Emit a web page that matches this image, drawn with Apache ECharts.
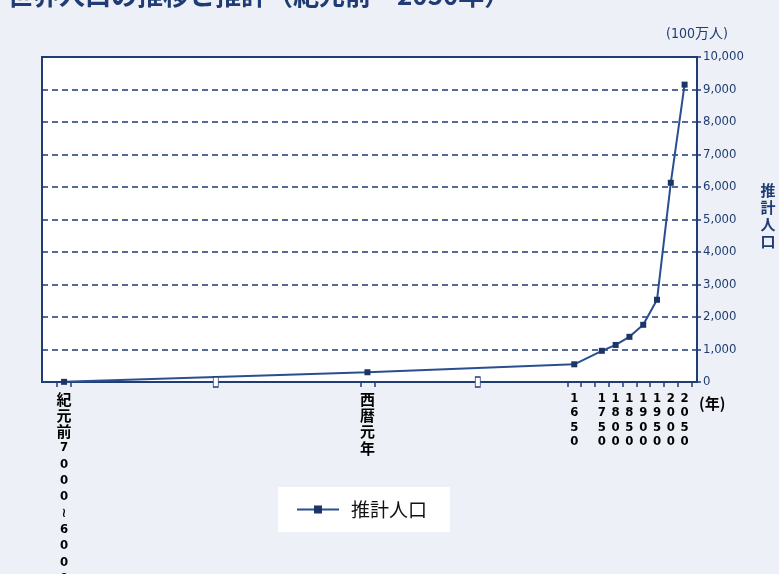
<!DOCTYPE html>
<html>
<head>
<meta charset="utf-8">
<script src="https://cdn.jsdelivr.net/npm/echarts@6/dist/echarts.min.js"></script>
<style>
  html, body { margin: 0; padding: 0; background: #edf0f6; }
  #chart { width: 779px; height: 574px; }
</style>
</head>
<body>
<div id="chart"></div>
<script>
// World population, estimates and projection (millions)
const periods = ['紀元前7000～6000', '西暦元年', '1650', '1750', '1800', '1850', '1900', '1950', '2000', '2050'];
const population = [5, 300, 545, 960, 1140, 1390, 1760, 2530, 6130, 9150];
// Slot of each period on the compressed time axis
const periodSlots = [1, 23, 38, 40, 41, 42, 43, 44, 45, 46];
// Slots that get a tick band (1700 has a band but no value)
const tickSlots = [1, 23, 38, 39, 40, 41, 42, 43, 44, 45, 46];
// Where the time axis is broken
const breakSlots = [12, 31];
const yMin = 0, yMax = 10000, yStep = 1000;

const NAVY = '#1f3d74';

const tickValues = [];
tickSlots.forEach(s => {
  [s - 0.5, s + 0.5].forEach(v => { if (!tickValues.includes(v)) tickValues.push(v); });
});

// Stack the characters of a label vertically
function verticalLabel(text) {
  const hasCJK = /[^\x00-\x7f]/.test(text);
  return Array.from(text).map(ch => {
    if (ch === '～') return '{n|≀}';
    if (/[0-9]/.test(ch)) return (hasCJK ? '{n|' : '{d|') + ch + '}';
    return '{c|' + ch + '}';
  }).join('\n');
}

const chart = echarts.init(document.getElementById('chart'), null, { renderer: 'canvas' });

chart.setOption({
  animation: false,
  backgroundColor: '#edf0f6',
  title: {
    text: '世界人口の推移と推計（紀元前～2050年）',
    left: 2,
    top: -23,
    textStyle: { color: NAVY, fontSize: 26, fontWeight: 'bold', fontFamily: 'Noto Sans CJK JP' }
  },
  grid: {
    left: 42, top: 57, right: 82, bottom: 192,
    outerBoundsMode: 'none',
    containLabel: false,
    show: true, backgroundColor: '#ffffff', borderColor: NAVY, borderWidth: 2
  },
  legend: {
    data: ['推計人口'],
    left: 278, top: 487,
    padding: [13, 23, 13, 18],
    backgroundColor: '#ffffff',
    itemWidth: 42, itemHeight: 10,
    textStyle: { color: '#111', fontSize: 19, fontFamily: 'Noto Sans CJK JP', padding: [0, 0, 0, 7] }
  },
  xAxis: {
    type: 'value',
    min: -0.6, max: 46.9,
    splitLine: { show: false },
    axisLine: { onZero: false, lineStyle: { color: NAVY, width: 2 } },
    axisTick: { show: true, customValues: tickValues, length: 5, lineStyle: { color: NAVY, width: 1.5 } },
    axisLabel: {
      customValues: periodSlots,
      margin: 9,
      verticalAlign: 'top',
      formatter: v => verticalLabel(periods[periodSlots.indexOf(v)] || ''),
      rich: {
        c: { fontSize: 15, lineHeight: 16.3, fontWeight: 'bold', color: '#000', fontFamily: 'Noto Sans CJK JP' },
        n: { fontSize: 13, lineHeight: 16.3, fontWeight: 'bold', color: '#000', fontFamily: 'DejaVu Sans Condensed' },
        d: { fontSize: 13, lineHeight: 14.5, fontWeight: 'bold', color: '#000', fontFamily: 'DejaVu Sans Condensed' }
      }
    },
    name: '(年)',
    nameLocation: 'end',
    nameGap: 2,
    nameTextStyle: { color: '#000', fontSize: 15, fontWeight: 'bold', fontFamily: 'Noto Sans CJK JP', verticalAlign: 'top', padding: [14, 0, 0, 0] }
  },
  yAxis: {
    type: 'value',
    position: 'right',
    min: yMin, max: yMax, interval: yStep,
    axisLine: { show: true, onZero: false, lineStyle: { color: NAVY, width: 2 } },
    axisTick: { show: true, length: 4, lineStyle: { color: NAVY, width: 1.5 } },
    splitLine: { lineStyle: { color: NAVY, width: 1.5, type: [6, 4] } },
    axisLabel: {
      margin: 6,
      color: NAVY,
      fontSize: 13,
      fontFamily: 'DejaVu Sans Condensed',
      formatter: v => v.toLocaleString('en-US')
    },
    name: '(100万人)',
    nameLocation: 'end',
    nameGap: 16,
    nameTextStyle: { color: NAVY, fontSize: 14, fontFamily: 'DejaVu Sans Condensed, Noto Sans CJK JP' }
  },
  graphic: [{
    type: 'text',
    x: 768, y: 216,
    style: {
      text: '推\n計\n人\n口',
      fill: NAVY,
      font: 'bold 15px "Noto Sans CJK JP"',
      lineHeight: 17,
      align: 'center',
      verticalAlign: 'middle'
    }
  }],
  series: [{
    name: '推計人口',
    type: 'line',
    data: periodSlots.map((s, i) => [s, population[i]]),
    symbol: 'rect',
    symbolSize: 6,
    lineStyle: { color: '#2a4f8f', width: 2 },
    itemStyle: { color: '#1b3566' },
    markPoint: {
      symbol: 'rect',
      symbolSize: [5, 10],
      itemStyle: { color: '#ffffff', borderColor: NAVY, borderWidth: 1 },
      label: { show: false },
      data: breakSlots.map(s => ({ coord: [s, 0] }))
    }
  }]
});
</script>
</body>
</html>
